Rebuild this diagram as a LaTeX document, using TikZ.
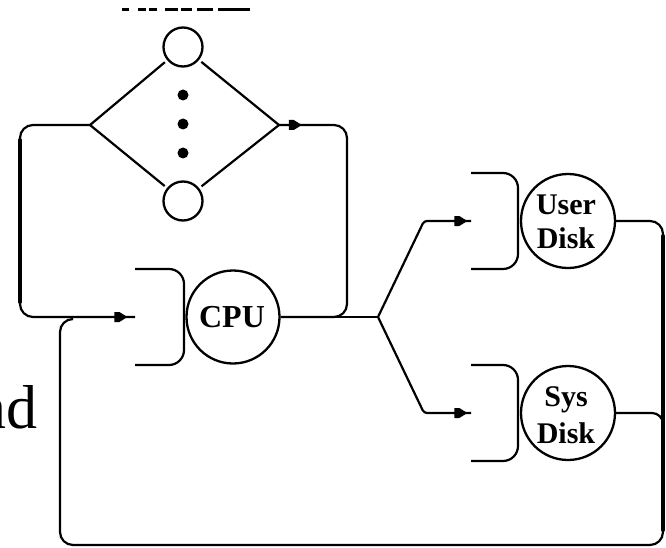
\documentclass[tikz,border=0pt]{standalone}
\usepackage{fontspec}
\setmainfont{Liberation Serif}
\usetikzlibrary{arrows.meta,decorations.markings}
\tikzset{
  x=1pt,y=-1pt,
  wire/.style={draw=black,line width=2.2pt,rounded corners=13pt},
  heavy/.style={draw=black,line width=3.8pt,line cap=round},
  straight/.style={draw=black,line width=2.2pt},
  station/.style={circle,draw=black,line width=2.3pt,inner sep=0pt,fill=white},
  queuebox/.style={draw=black,line width=2.2pt,rounded corners=15pt},
  dotmark/.style={circle,fill=black,inner sep=0pt,minimum size=11pt},
  tip/.style={postaction={decorate},decoration={markings,mark=at position #1 with {\fill[black,sharp corners] (7pt,0pt) -- (-1pt,-5pt) -- (-6pt,-5pt) -- (-6pt,5pt) -- (-1pt,5pt) -- cycle;}}},
  disklabel/.style={font=\bfseries\fontsize{30pt}{34pt}\selectfont,align=center,inner sep=0pt},
  cliptext/.style={line width=3pt}
}
\begin{document}
\begin{tikzpicture}
\useasboundingbox (0,0) rectangle (666,548);
\fill[white] (0,0) rectangle (666,548);
% clipped text fragments
\begin{scope}
\clip (0,0) rectangle (666,548);
\node[anchor=base east,inner sep=0pt,font=\fontsize{62pt}{66pt}\selectfont] (tail) at (38,428) {nd};
\end{scope}
\foreach \a/\b in {122/129,138/146,149/157,165/178,181/192,197/213,218/250}
  \draw[cliptext] (\a,10) -- (\b,10);
% coordinates
\coordinate (L) at (90,125);
\coordinate (R) at (279,125);
\coordinate (J) at (378,317);
\coordinate (cpuin) at (135,317);
\coordinate (uin) at (471,221);
\coordinate (sin) at (471,413);
% stations
\node[station,minimum size=39pt] (t1) at (183,47) {};
\node[station,minimum size=39pt] (t2) at (183,201) {};
\node[dotmark] (d1) at (183,95) {};
\node[dotmark] (d2) at (183,124) {};
\node[dotmark] (d3) at (183,153) {};
% queues
\draw[queuebox] (135,269) -- (184,269) -- (184,365) -- (135,365);
\draw[queuebox] (471,173) -- (518,173) -- (518,269) -- (471,269);
\draw[queuebox] (471,365) -- (518,365) -- (518,461) -- (471,461);
\node[station,minimum size=93pt] (cpu) at (233,317) {};
\node[station,minimum size=94pt] (user) at (568,221) {};
\node[station,minimum size=94pt] (sys) at (568,413) {};
\node[font=\bfseries\fontsize{32pt}{34pt}\selectfont,inner sep=0pt] at (232,317) {CPU};
\node[disklabel] at (566,222) {User\\Disk};
\node[disklabel,font=\bfseries\fontsize{30pt}{37pt}\selectfont] at (566,415) {Sys\\Disk};
% diamond
\draw[straight,shorten >=3pt] (L) -- (t1);
\draw[straight,shorten >=3pt] (L) -- (t2);
\draw[straight,shorten >=3pt] (R) -- (t1);
\draw[straight,shorten >=3pt] (R) -- (t2);
% loops
\draw[wire,tip=0.96] (L) -- (20,125) -- (20,317) -- (cpuin);
\draw[heavy] (20,140) -- (20,302);
\draw[wire,tip=0.05] (R) -- (347,125) -- (347,317) -- (cpu.east);
\draw[straight] (cpu.east) -- (J);
\draw[wire,rounded corners=3pt,tip=0.93] (J) -- (424,221) -- (uin);
\draw[wire,rounded corners=3pt,tip=0.93] (J) -- (424,413) -- (sin);
\draw[wire,rounded corners=11pt] (sys.east) -- (663,413) -- (663,430);
\draw[wire] (user.east) -- (663,221) -- (663,545) -- (60,545) -- (60,319) -- (72,319);
\draw[heavy] (663,236) -- (663,530);
\end{tikzpicture}
\end{document}
